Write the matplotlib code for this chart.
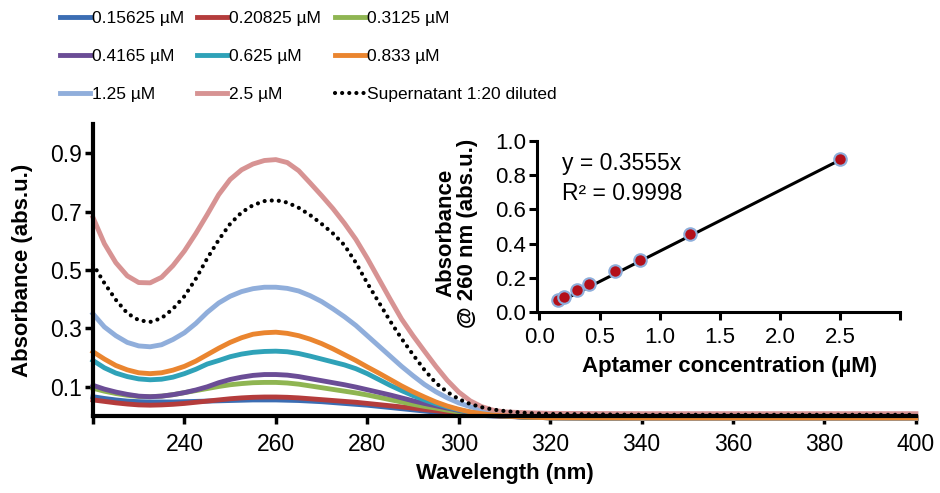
import numpy as np
import matplotlib
matplotlib.use('Agg')
import matplotlib.pyplot as plt

plt.rcParams['font.family'] = ['Liberation Sans', 'DejaVu Sans']

# --- DATA ---
wavelength = [220, 222.5, 225, 227.5, 230, 232.5, 235, 237.5, 240, 242.5, 245, 247.5,
              250, 252.5, 255, 257.5, 260, 262.5, 265, 267.5, 270, 272.5, 275, 277.5,
              280, 282.5, 285, 287.5, 290, 292.5, 295, 297.5, 300, 302.5, 305, 307.5,
              310, 315, 320, 340, 360, 380, 400]

a_015625 = [0.066, 0.060, 0.055, 0.051, 0.049, 0.048, 0.048, 0.048, 0.049, 0.050, 0.051, 0.052,
            0.053, 0.054, 0.055, 0.055, 0.055, 0.054, 0.053, 0.051, 0.049, 0.046, 0.043, 0.040,
            0.037, 0.033, 0.029, 0.025, 0.021, 0.017, 0.013, 0.010, 0.007, 0.004, 0.002, 0.000,
            -0.001, -0.004, -0.006, -0.007, -0.007, -0.007, -0.007]
a_020825 = [0.055, 0.050, 0.045, 0.041, 0.038, 0.037, 0.038, 0.040, 0.043, 0.047, 0.051, 0.055,
            0.059, 0.062, 0.064, 0.065, 0.065, 0.064, 0.062, 0.059, 0.056, 0.053, 0.050, 0.047,
            0.043, 0.039, 0.035, 0.031, 0.027, 0.022, 0.018, 0.014, 0.010, 0.006, 0.003, 0.001,
            -0.001, -0.004, -0.006, -0.007, -0.007, -0.007, -0.007]
a_03125 = [0.095, 0.085, 0.077, 0.071, 0.067, 0.066, 0.068, 0.073, 0.080, 0.087, 0.094, 0.101,
           0.107, 0.111, 0.114, 0.115, 0.115, 0.113, 0.109, 0.103, 0.097, 0.091, 0.085, 0.079,
           0.072, 0.064, 0.056, 0.048, 0.040, 0.033, 0.027, 0.020, 0.014, 0.009, 0.005, 0.002,
           0.000, -0.004, -0.006, -0.007, -0.007, -0.007, -0.007]
a_04165 = [0.105, 0.092, 0.082, 0.074, 0.068, 0.066, 0.068, 0.073, 0.080, 0.089, 0.100, 0.114,
           0.125, 0.133, 0.139, 0.142, 0.142, 0.140, 0.135, 0.128, 0.121, 0.114, 0.107, 0.099,
           0.090, 0.081, 0.072, 0.062, 0.052, 0.043, 0.035, 0.027, 0.019, 0.012, 0.007, 0.003,
           0.000, -0.004, -0.006, -0.007, -0.007, -0.007, -0.007]
a_0625 = [0.190, 0.165, 0.147, 0.135, 0.127, 0.124, 0.126, 0.133, 0.145, 0.160, 0.178, 0.190,
          0.203, 0.212, 0.218, 0.221, 0.222, 0.220, 0.214, 0.205, 0.195, 0.185, 0.175, 0.162,
          0.145, 0.125, 0.105, 0.087, 0.070, 0.055, 0.042, 0.031, 0.021, 0.013, 0.007, 0.003,
          0.000, -0.004, -0.006, -0.007, -0.007, -0.007, -0.007]
a_0833 = [0.220, 0.195, 0.173, 0.158, 0.148, 0.145, 0.148, 0.157, 0.170, 0.188, 0.210, 0.232,
          0.252, 0.268, 0.280, 0.285, 0.287, 0.283, 0.275, 0.263, 0.248, 0.230, 0.210, 0.190,
          0.168, 0.147, 0.125, 0.103, 0.083, 0.065, 0.048, 0.034, 0.023, 0.014, 0.008, 0.003,
          0.000, -0.004, -0.006, -0.007, -0.007, -0.007, -0.007]
a_125 = [0.350, 0.305, 0.275, 0.252, 0.240, 0.237, 0.244, 0.262, 0.285, 0.317, 0.355, 0.387,
         0.410, 0.426, 0.436, 0.441, 0.441, 0.437, 0.428, 0.412, 0.392, 0.367, 0.340, 0.310,
         0.275, 0.240, 0.205, 0.170, 0.138, 0.108, 0.083, 0.062, 0.045, 0.032, 0.022, 0.015,
         0.010, 0.002, -0.004, -0.007, -0.007, -0.007, -0.007]
a_25 = [0.680, 0.590, 0.525, 0.480, 0.457, 0.456, 0.475, 0.515, 0.565, 0.625, 0.690, 0.758,
        0.810, 0.843, 0.863, 0.875, 0.878, 0.868, 0.840, 0.798, 0.755, 0.710, 0.660, 0.605,
        0.540, 0.470, 0.400, 0.332, 0.275, 0.222, 0.170, 0.122, 0.082, 0.052, 0.032, 0.020,
        0.014, 0.011, 0.009, 0.008, 0.008, 0.008, 0.008]
a_super = [0.520, 0.455, 0.398, 0.352, 0.328, 0.322, 0.335, 0.367, 0.410, 0.470, 0.540, 0.603,
           0.658, 0.697, 0.722, 0.736, 0.739, 0.731, 0.713, 0.688, 0.658, 0.625, 0.585, 0.525,
           0.455, 0.390, 0.325, 0.265, 0.210, 0.158, 0.113, 0.082, 0.058, 0.041, 0.030, 0.022,
           0.017, 0.010, 0.007, 0.004, 0.004, 0.004, 0.004]

labels = ['0.15625 µM', '0.20825 µM', '0.3125 µM', '0.4165 µM', '0.625 µM',
          '0.833 µM', '1.25 µM', '2.5 µM']
colors = ['#3b6db3', '#b43c3c', '#8fb552', '#6b4d96', '#2fa2b8', '#ea852f', '#90aedb', '#d79393']
spectra = [a_015625, a_020825, a_03125, a_04165, a_0625, a_0833, a_125, a_25]

# inset: absorbance at 260 nm vs concentration
conc = [0.15625, 0.20825, 0.3125, 0.4165, 0.625, 0.833, 1.25, 2.5]
a260 = [0.068, 0.088, 0.127, 0.162, 0.240, 0.302, 0.458, 0.897]
slope = 0.3555

# --- FIGURE ---
fig = plt.figure(figsize=(9.4, 4.93), dpi=100)
ax = fig.add_axes([0.0989, 0.1562, 0.8755, 0.5923])

lines = []
for y, c, lab in zip(spectra, colors, labels):
    z = 2.5 if lab == '0.833 µM' else 2
    ln, = ax.plot(wavelength, y, color=c, lw=3.5, label=lab, clip_on=False, zorder=z)
    lines.append(ln)
dot, = ax.plot(wavelength, a_super, color='black', lw=3.0, linestyle=(0, (0.01, 1.7)),
               dash_capstyle='round', label='Supernatant 1:20 diluted', clip_on=False, zorder=3)
lines.append(dot)

ax.set_xlim(220, 400)
ax.set_ylim(0, 1.0)
ax.set_xticks(range(220, 401, 20))
ax.set_xticklabels([''] + [str(v) for v in range(240, 401, 20)])
ax.set_yticks([0.1, 0.3, 0.5, 0.7, 0.9])
ax.set_yticklabels(['0.1', '0.3', '0.5', '0.7', '0.9'])
for s in ['top', 'right']:
    ax.spines[s].set_visible(False)
for s in ['left', 'bottom']:
    ax.spines[s].set_linewidth(3)
ax.tick_params(axis='both', direction='out', length=6, width=2.5, labelsize=16.5)
ax.tick_params(axis='x', pad=6)
ax.tick_params(axis='y', pad=2)
ax.set_xlabel('Wavelength (nm)', fontsize=16, fontweight='bold')
ax.xaxis.set_label_coords(0.5, -0.16)
ax.set_ylabel('Absorbance (abs.u.)', fontsize=16, fontweight='bold')
ax.yaxis.set_label_coords(-0.073, 0.5)

# legends, one per column
cols = [[0, 3, 6], [1, 4, 7], [2, 5, 8]]
xs = [0.0638, 0.2096, 0.3564]
for idx, x0 in zip(cols, xs):
    fig.legend([lines[i] for i in idx], [lines[i].get_label() for i in idx],
               loc='upper left', bbox_to_anchor=(x0, 0.977), frameon=False,
               borderpad=0, borderaxespad=0, handlelength=1.75, handletextpad=0.12,
               labelspacing=1.3, prop={'family': 'Liberation Sans', 'size': 12.5})

# inset
ins = fig.add_axes([0.5713, 0.3671, 0.3862, 0.3469])
ins.patch.set_alpha(0)
xfit = np.array([conc[0], conc[-1]])
ins.plot(xfit, slope * xfit, color='black', lw=2.2, zorder=2)
ins.plot(conc, a260, linestyle='none', marker='o', markersize=9,
         markerfacecolor='#b3101a', markeredgecolor='#8eaedb', markeredgewidth=1.5, zorder=3)
ins.set_xlim(-0.02, 3.0)
ins.set_ylim(0, 1.0)
ins.set_xticks([0, 0.5, 1.0, 1.5, 2.0, 2.5, 3.0])
ins.set_xticklabels(['0.0', '0.5', '1.0', '1.5', '2.0', '2.5', ''])
ins.set_yticks([0, 0.2, 0.4, 0.6, 0.8, 1.0])
ins.set_yticklabels(['0.0', '0.2', '0.4', '0.6', '0.8', '1.0'])
for s in ['top', 'right']:
    ins.spines[s].set_visible(False)
for s in ['left', 'bottom']:
    ins.spines[s].set_linewidth(2.2)
ins.tick_params(axis='both', direction='out', length=6, width=2.2, labelsize=16)
ins.tick_params(axis='x', pad=5)
ins.tick_params(axis='y', pad=2)
ins.set_xlabel('Aptamer concentration (µM)', fontsize=16, fontweight='bold')
ins.xaxis.set_label_coords(0.529, -0.257)
ins.set_ylabel('Absorbance\n@ 260 nm (abs.u.)', fontsize=16, fontweight='bold', linespacing=1.0)
ins.yaxis.set_label_coords(-0.163, 0.46)
ins.text(0.07, 0.87, 'y = 0.3555x', transform=ins.transAxes, fontsize=16.5, va='center')
ins.text(0.07, 0.695, 'R² = 0.9998', transform=ins.transAxes, fontsize=16.5, va='center')

fig.savefig('out.png', dpi=100)
